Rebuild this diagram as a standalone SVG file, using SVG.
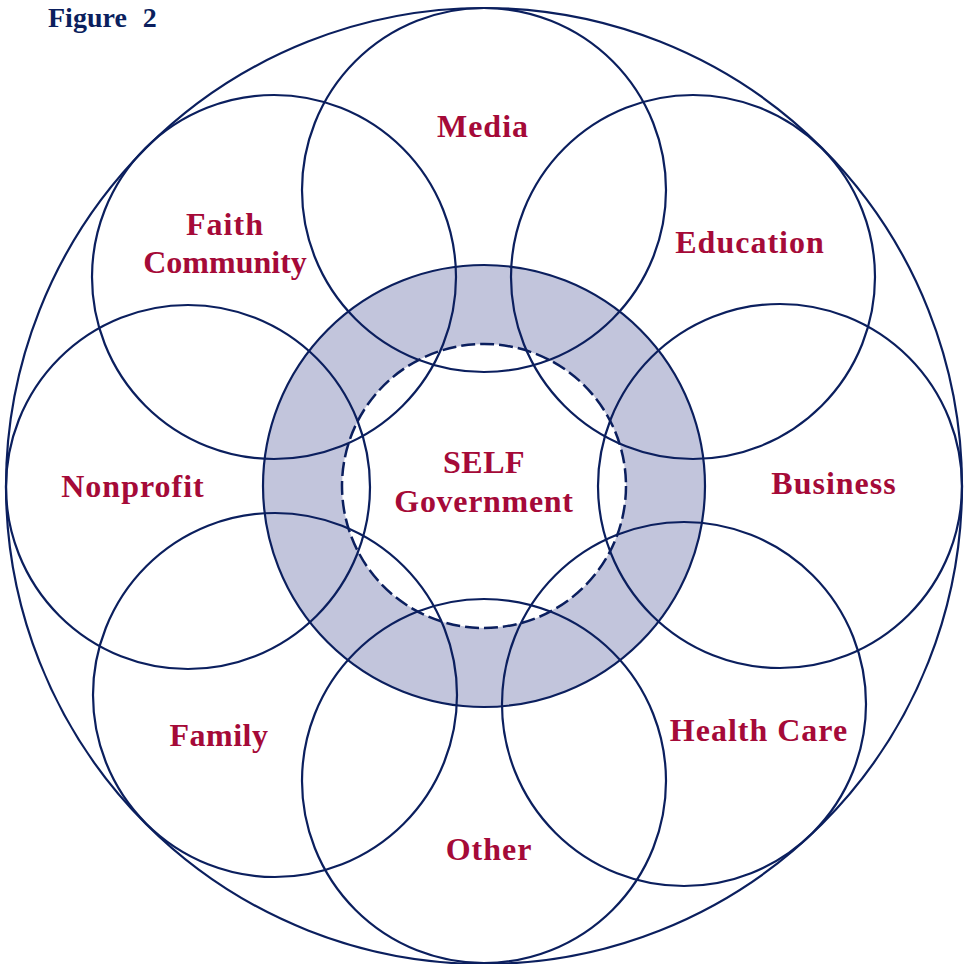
<svg xmlns="http://www.w3.org/2000/svg" width="970" height="964" viewBox="0 0 970 964">
  <style>
    .ring { fill: none; stroke: #0b1f5e; stroke-width: 2.2; }
    .label { font-family: "Liberation Serif", "Times New Roman", serif; font-weight: bold; font-size: 32px; fill: #a50a38; text-anchor: middle; letter-spacing: 1px; }
    .title { font-family: "Liberation Serif", "Times New Roman", serif; font-weight: bold; font-size: 28px; fill: #0b1f5e; word-spacing: 9px; }
  </style>
  <rect width="970" height="964" fill="#ffffff"/>

  <text class="title" x="48" y="27">Figure 2</text>

  <!-- enclosing circle -->
  <g id="outer">
    <circle class="ring" cx="484" cy="486" r="478"/>
  </g>

  <!-- central band and SELF Government core -->
  <g id="self-government">
    <circle cx="484" cy="486" r="221" fill="#c2c5dc" stroke="#0b1f5e" stroke-width="2.2"/>
    <circle cx="484" cy="486" r="142" fill="#ffffff" stroke="#0b1f5e" stroke-width="2.5" stroke-dasharray="14 5"/>
  </g>

  <!-- eight sectors around the core -->
  <g id="media"><circle class="ring" cx="484" cy="190" r="182"/></g>
  <g id="education"><circle class="ring" cx="693" cy="277" r="182"/></g>
  <g id="business"><circle class="ring" cx="780" cy="486" r="182"/></g>
  <g id="health-care"><circle class="ring" cx="684" cy="704" r="182"/></g>
  <g id="other"><circle class="ring" cx="484" cy="781" r="182"/></g>
  <g id="family"><circle class="ring" cx="275" cy="695" r="182"/></g>
  <g id="nonprofit"><circle class="ring" cx="188" cy="487" r="182"/></g>
  <g id="faith-community"><circle class="ring" cx="274" cy="277" r="182"/></g>

  <g id="connectors"/>

  <!-- labels -->
  <g id="labels">
    <text class="label" x="483" y="137">Media</text>
    <text class="label" x="225" y="235">Faith</text>
    <text class="label" x="225" y="273" style="letter-spacing:0px">Community</text>
    <text class="label" x="750" y="253">Education</text>
    <text class="label" x="834" y="494">Business</text>
    <text class="label" x="759" y="741">Health Care</text>
    <text class="label" x="219" y="746" style="letter-spacing:0.5px">Family</text>
    <text class="label" x="489" y="860">Other</text>
    <text class="label" x="133" y="497">Nonprofit</text>
    <text class="label" x="484" y="473" style="letter-spacing:0.5px">SELF</text>
    <text class="label" x="484" y="512" style="letter-spacing:0.7px">Government</text>
  </g>
</svg>
